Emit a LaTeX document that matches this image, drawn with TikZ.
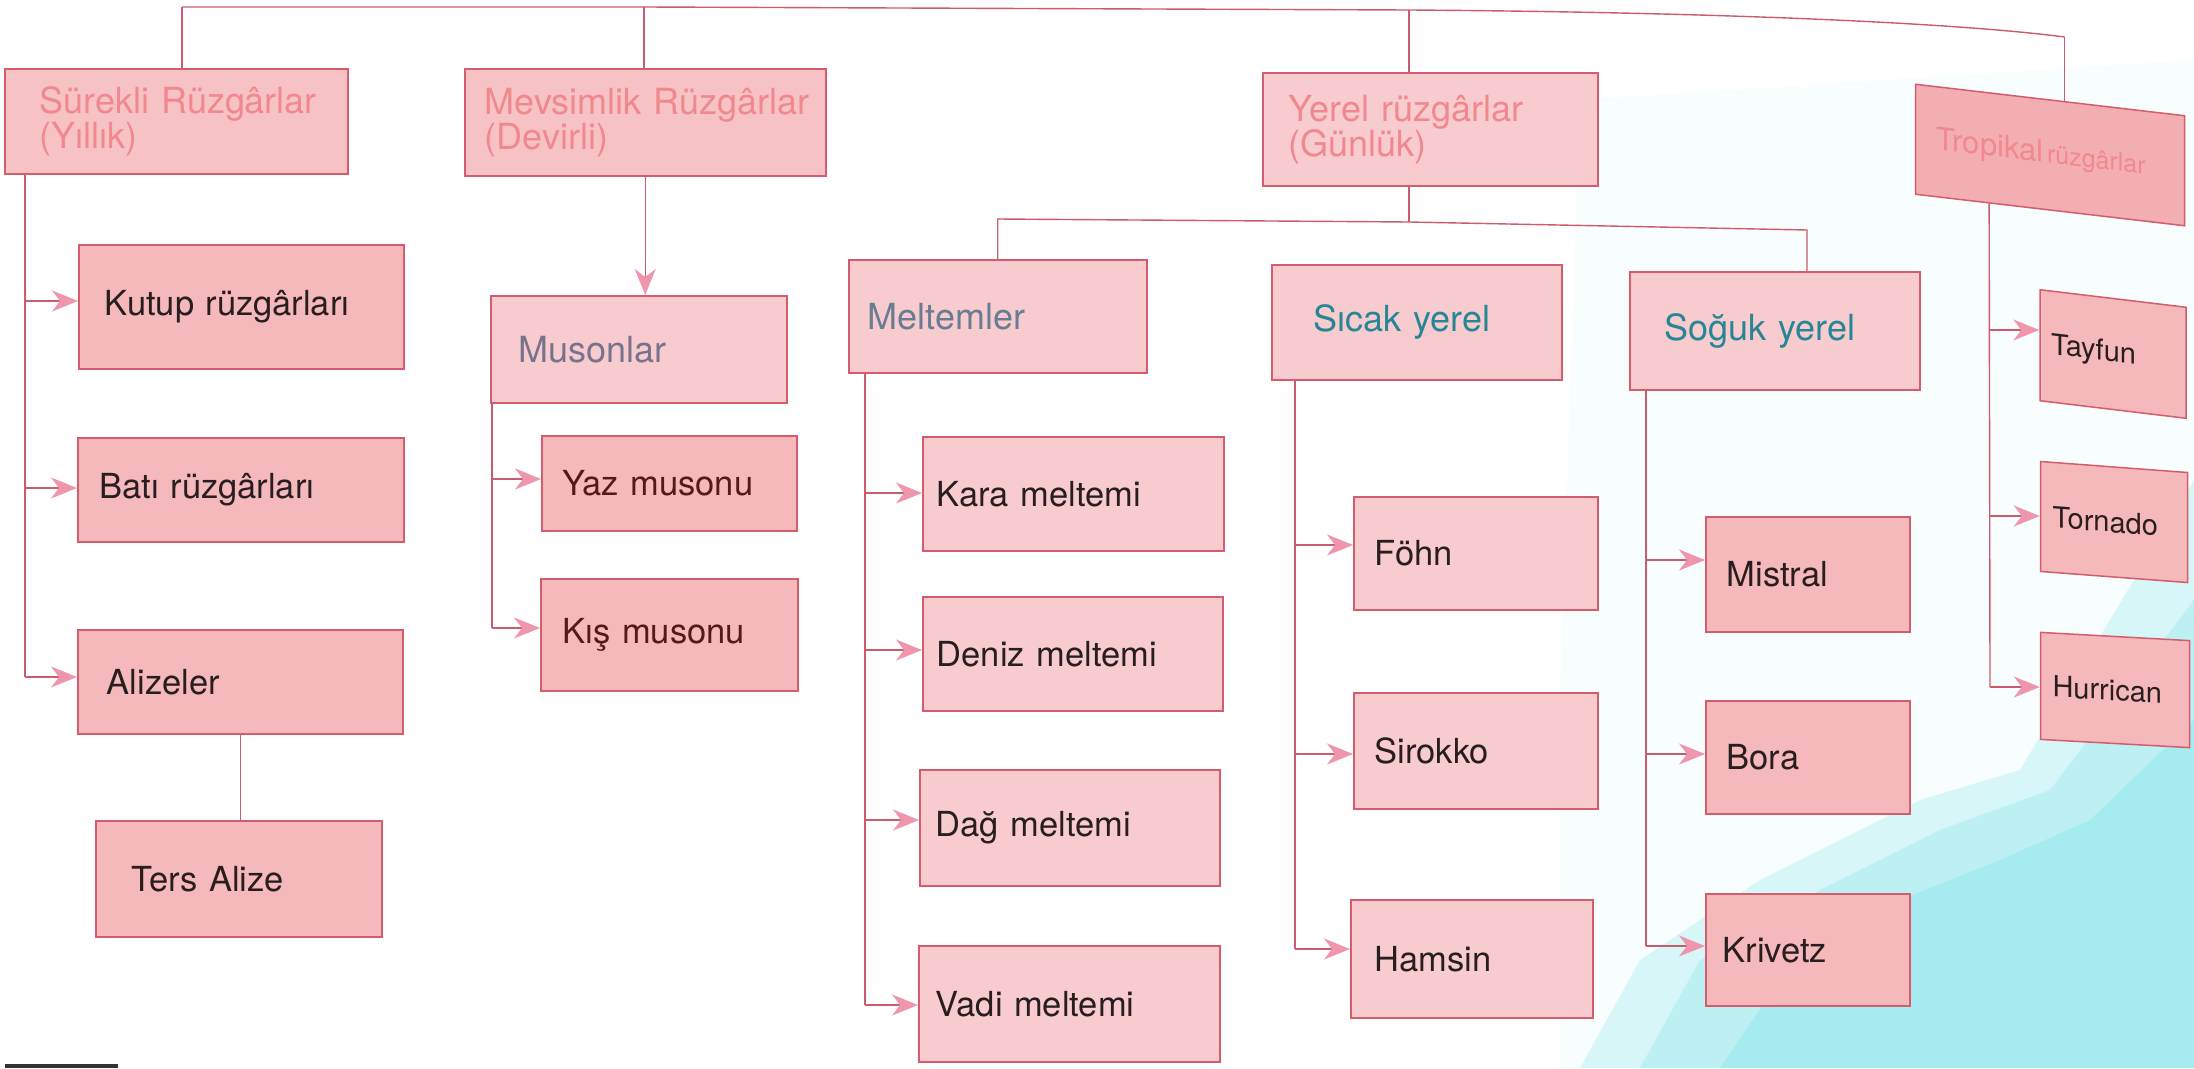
\documentclass[tikz,border=0pt]{standalone}
\usepackage{fontspec}
\setmainfont{TeX Gyre Heros}
\usetikzlibrary{arrows.meta,calc}
\definecolor{hdrfill}{RGB}{247,194,196}
\definecolor{leaffill}{RGB}{245,184,187}
\definecolor{subfill}{RGB}{248,203,207}
\definecolor{trofill}{RGB}{243,174,177}
\definecolor{bordercol}{RGB}{212,92,108}
\definecolor{conncol}{RGB}{204,92,108}
\definecolor{arrowpink}{RGB}{240,150,172}
\definecolor{hdrtext}{RGB}{241,136,142}
\definecolor{leaftext}{RGB}{40,30,32}
\definecolor{mustext}{RGB}{118,116,140}
\definecolor{meltext}{RGB}{104,124,146}
\definecolor{sictext}{RGB}{38,134,150}
\definecolor{yaztext}{RGB}{84,26,26}
\definecolor{cyanbg}{RGB}{140,230,236}
\tikzset{
  bx/.style={draw=bordercol, line width=1.5pt, rectangle, inner xsep=0pt, inner ysep=0pt, align=left, anchor=north west},
  hdr/.style={bx, fill=hdrfill, text=hdrtext, font=\fontsize{36}{35}\selectfont},
  leaf/.style={bx, fill=leaffill, text=leaftext, font=\fontsize{34.5}{40}\selectfont},
  sub/.style={bx, fill=subfill, font=\fontsize{36}{40}\selectfont},
  tleaf/.style={draw=bordercol, line width=1.5pt, rectangle, inner xsep=0pt, inner ysep=0pt, align=left, fill=leaffill, text=leaftext, font=\fontsize{29}{30}\selectfont},
  conn/.style={draw=conncol, line width=1.4pt},
  arr/.style={conn, -{Stealth[length=26pt,width=21pt,inset=8pt,color=arrowpink]}},
}
\newcommand\bxnode[8]{\def\pd{\hspace*{#7pt}}\node[#2, text width=#5pt, minimum height=#6pt] (#1) at (#3,#4) {\pd #8};}
\begin{document}
\begin{tikzpicture}[x=1pt,y=-1pt]
\useasboundingbox (0,0) rectangle (2194,1068);
\fill[white] (0,0) rectangle (2194,1068);
% background tint
\fill[cyanbg, opacity=0.06] (1580,100) -- (2194,60) -- (2194,1068) -- (1560,1068) -- (1560,700) -- cycle;
\fill[cyanbg, opacity=0.3] (1580,1068) -- (1640,960) -- (1760,880) -- (1920,800) -- (2020,770) -- (2194,480) -- (2194,1068) -- cycle;
\fill[cyanbg, opacity=0.35] (1640,1068) -- (1700,960) -- (1800,900) -- (1940,830) -- (2050,790) -- (2194,600) -- (2194,1068) -- cycle;
\fill[cyanbg, opacity=0.45] (1720,1068) -- (1780,980) -- (1900,900) -- (2000,860) -- (2090,820) -- (2194,720) -- (2194,1068) -- cycle;
\fill[black!80] (5,1064) rectangle (118,1068);

% top level
\bxnode{sur}{hdr}{4}{68}{343}{105}{35}{Sürekli Rüzgârlar\\\pd(Yıllık)}
\bxnode{mev}{hdr}{464}{68}{361}{107}{20}{Mevsimlik Rüzgârlar\\\pd(Devirli)}
\bxnode{yer}{hdr, fill=subfill}{1262}{72}{335}{113}{26}{Yerel rüzgârlar\\\pd(Günlük)}
\begin{scope}[shift={(2050,155)}, yslant=-0.117, transform shape]
\node[bx, anchor=center, fill=trofill, text=hdrtext, text width=269pt, minimum height=110pt] (tro) at (0,0) {\hspace*{21pt}\fontsize{31}{34}\selectfont Tropikal {\fontsize{25}{34}\selectfont rüzgârlar}};
\end{scope}

% Sürekli group
\bxnode{kut}{leaf}{78}{244}{325}{124}{26}{Kutup rüzgârları}
\bxnode{bat}{leaf}{77}{437}{326}{104}{22}{Batı rüzgârları}
\bxnode{ali}{leaf}{77}{629}{325}{104}{29}{Alizeler}
\bxnode{ter}{leaf}{95}{820}{286}{116}{36}{Ters Alize}

% Mevsimlik group
\bxnode{mus}{sub, text=mustext}{490}{295}{296}{107}{28}{Musonlar}
\bxnode{yaz}{leaf, text=yaztext}{541}{435}{255}{95}{21}{Yaz musonu}
\bxnode{kis}{leaf, text=yaztext}{540}{578}{257}{112}{22}{Kış musonu}

% Meltemler group
\bxnode{mel}{sub, text=meltext}{848}{259}{298}{113}{19}{Meltemler}
\bxnode{kar}{leaf, fill=subfill}{922}{436}{301}{114}{14}{Kara meltemi}
\bxnode{den}{leaf, fill=subfill}{922}{596}{300}{114}{14}{Deniz meltemi}
\bxnode{dag}{leaf, fill=subfill}{919}{769}{300}{116}{16}{Dağ meltemi}
\bxnode{vad}{leaf, fill=subfill}{918}{945}{301}{116}{17}{Vadi meltemi}

% Sıcak group
\bxnode{sic}{sub, text=sictext}{1271}{264}{290}{115}{42}{Sıcak yerel}
\bxnode{foh}{leaf, fill=subfill}{1353}{496}{244}{113}{21}{Föhn}
\bxnode{sir}{leaf, fill=subfill}{1353}{692}{244}{116}{21}{Sirokko}
\bxnode{ham}{leaf, fill=subfill}{1350}{899}{242}{118}{24}{Hamsin}

% Soğuk group
\bxnode{sog}{sub, text=sictext}{1629}{271}{290}{118}{35}{Soğuk yerel}
\bxnode{mis}{leaf}{1705}{516}{204}{115}{21}{Mistral}
\bxnode{bor}{leaf}{1705}{700}{204}{113}{21}{Bora}
\bxnode{kri}{leaf}{1705}{893}{204}{112}{17}{Krivetz}

% Tropical group
\begin{scope}[shift={(2113,354)}, yslant=-0.12, transform shape]
\node[tleaf, text width=146pt, minimum height=111pt] (tay) at (0,0) {\hspace*{11pt}Tayfun};
\end{scope}
\begin{scope}[shift={(2114,522)}, yslant=-0.075, transform shape]
\node[tleaf, text width=147pt, minimum height=110pt] (tor) at (0,0) {\hspace*{12pt}Tornado};
\end{scope}
\begin{scope}[shift={(2115,690)}, yslant=-0.055, transform shape]
\node[tleaf, text width=149pt, minimum height=107pt] (hur) at (0,0) {\hspace*{12pt}Hurrican};
\end{scope}

% top bus
\coordinate (b1) at (182,7);
\coordinate (b2) at (644,7);
\coordinate (b3) at (1409,10);
\coordinate (tn) at ($(tro.north west)!0.554!(tro.north east)$);
\coordinate (b4y) at (0,37);
\coordinate (b4) at (tn |- b4y);
\draw[conn] (b1) -- (b2) -- (b3) .. controls (1700,12) and (1950,22) .. (b4);
\draw[conn] (b1) -- (b1 |- sur.north);
\draw[conn] (b2) -- (b2 |- mev.north);
\draw[conn] (b3) -- (b3 |- yer.north);
\draw[conn] (b4) -- (tn);

% Yerel sub-bus
\coordinate (ym) at (1409,222);
\coordinate (yl) at (0,219);
\coordinate (yr) at (1807,230);
\draw[conn] (b3 |- yer.south) -- (ym);
\draw[conn] (mel.north) -- (mel.north |- yl) -- (ym) -- (yr) -- (yr |- sog.north);

% Sürekli branches
\coordinate (lk) at (25,301);
\coordinate (lb) at (25,488);
\coordinate (la) at (25,677);
\draw[conn] (lk |- sur.south) -- (la);
\draw[arr] (lk) -- (lk -| kut.west);
\draw[arr] (lb) -- (lb -| bat.west);
\draw[arr] (la) -- (la -| ali.west);
\draw[conn] (ali.south) -- (ali.south |- ter.north);

% Mevsimlik branches
\draw[arr] (mev.south) -- (mev.south |- mus.north);
\coordinate (my) at (492,479);
\coordinate (mk) at (492,628);
\draw[conn] (my |- mus.south) -- (mk);
\draw[arr] (my) -- (my -| yaz.west);
\draw[arr] (mk) -- (mk -| kis.west);

% Meltemler branches
\coordinate (m1) at (865,493);
\coordinate (m2) at (865,650);
\coordinate (m3) at (865,820);
\coordinate (m4) at (865,1005);
\draw[conn] (m1 |- mel.south) -- (m4);
\draw[arr] (m1) -- (m1 -| kar.west);
\draw[arr] (m2) -- (m2 -| den.west);
\draw[arr] (m3) -- (m3 -| dag.west);
\draw[arr] (m4) -- (m4 -| vad.west);

% Sıcak branches
\coordinate (s1) at (1295,545);
\coordinate (s2) at (1295,754);
\coordinate (s3) at (1295,949);
\draw[conn] (s1 |- sic.south) -- (s3);
\draw[arr] (s1) -- (s1 -| foh.west);
\draw[arr] (s2) -- (s2 -| sir.west);
\draw[arr] (s3) -- (s3 -| ham.west);

% Soğuk branches
\coordinate (g1) at (1646,560);
\coordinate (g2) at (1646,754);
\coordinate (g3) at (1646,946);
\draw[conn] (g1 |- sog.south) -- (g3);
\draw[arr] (g1) -- (g1 -| mis.west);
\draw[arr] (g2) -- (g2 -| bor.west);
\draw[arr] (g3) -- (g3 -| kri.west);

% Tropical branches
\coordinate (ts) at ($(tro.south west)!0.275!(tro.south east)$);
\coordinate (t1) at (1990,330);
\coordinate (t2) at (1990,516);
\coordinate (t3) at (1990,687);
\draw[conn] (ts) -- (t3);
\draw[arr] (t1) -- (t1 -| tay.west);
\draw[arr] (t2) -- (t2 -| tor.west);
\draw[arr] (t3) -- (t3 -| hur.west);
\end{tikzpicture}
\end{document}
